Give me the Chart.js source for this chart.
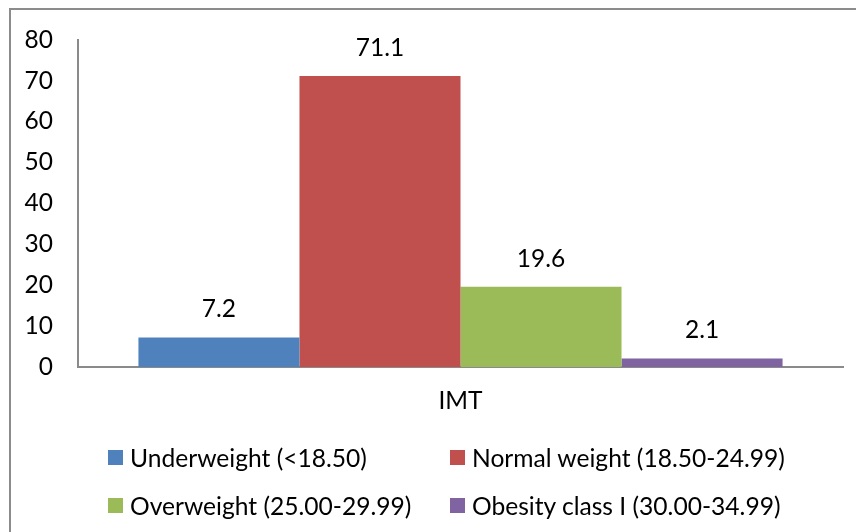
<!DOCTYPE html>
<html>
<head>
<meta charset="utf-8">
<script src="https://cdn.jsdelivr.net/npm/chart.js@4/dist/chart.umd.min.js"></script>
<style>
  html, body { margin: 0; padding: 0; background: #fff; }
  #wrap { position: relative; width: 856px; height: 532px; overflow: hidden; }
  #chart { position: absolute; left: 0; top: 0; }
  .legend-item { position: absolute; display: flex; align-items: center; font-family: Lato, sans-serif; font-size: 24.6px; color: #000; white-space: nowrap; }
  .legend-item .sw { width: 15px; height: 15px; margin-right: 7px; flex: none; }
</style>
</head>
<body>
<div id="wrap">
  <canvas id="chart" width="856" height="532"></canvas>
  <div id="legend"></div>
</div>
<script>
// Body mass index (IMT) distribution, percent of respondents
const categories = ['IMT'];
const seriesNames = [
  'Underweight (<18.50)',
  'Normal weight (18.50-24.99)',
  'Overweight (25.00-29.99)',
  'Obesity class I (30.00-34.99)'
];
const underweight = [7.2];
const normalWeight = [71.1];
const overweight = [19.6];
const obesityClassI = [2.1];
const yTicks = [0, 10, 20, 30, 40, 50, 60, 70, 80];

const seriesValues = [underweight, normalWeight, overweight, obesityClassI];
const seriesColors = ['#4F81BD', '#C0504D', '#9BBB59', '#8064A2'];
const FONT = 'Lato, sans-serif';
const AXIS_COLOR = '#8a8a8a';

// Frame line along the top and left edge of the canvas
const framePlugin = {
  id: 'frame',
  beforeDraw(chart) {
    const ctx = chart.ctx;
    ctx.save();
    ctx.strokeStyle = '#8c8c8c';
    ctx.lineWidth = 2;
    ctx.beginPath();
    ctx.moveTo(10, chart.height);
    ctx.lineTo(10, 9);
    ctx.lineTo(chart.width, 9);
    ctx.stroke();
    ctx.restore();
  }
};

// Value label centred above each bar
const valueLabels = {
  id: 'valueLabels',
  afterDatasetsDraw(chart) {
    const ctx = chart.ctx;
    ctx.save();
    ctx.font = '24.5px ' + FONT;
    ctx.fillStyle = '#000';
    ctx.textAlign = 'center';
    ctx.textBaseline = 'middle';
    chart.data.datasets.forEach((ds, i) => {
      const meta = chart.getDatasetMeta(i);
      meta.data.forEach((bar, j) => {
        ctx.fillText(String(ds.data[j]), bar.x, bar.y - 28);
      });
    });
    ctx.restore();
  }
};

const chart = new Chart(document.getElementById('chart'), {
  type: 'bar',
  data: {
    labels: categories,
    datasets: seriesNames.map((name, i) => ({
      label: name,
      data: seriesValues[i],
      backgroundColor: seriesColors[i],
      borderWidth: 0,
      categoryPercentage: 0.842,
      barPercentage: 1.0
    }))
  },
  options: {
    responsive: false,
    animation: false,
    devicePixelRatio: 1,
    layout: { padding: { top: 38, right: 13, left: 0, bottom: 0 } },
    plugins: {
      legend: { display: false },
      tooltip: { enabled: false }
    },
    scales: {
      x: {
        grid: { display: false, drawTicks: false },
        border: { display: true, color: AXIS_COLOR, width: 2 },
        ticks: { color: '#000', font: { family: FONT, size: 24.5 }, padding: 19 },
        afterFit(scale) { scale.height = 165; }
      },
      y: {
        min: yTicks[0],
        max: yTicks[yTicks.length - 1],
        afterBuildTicks(scale) { scale.ticks = yTicks.map(v => ({ value: v })); },
        grid: { display: false, drawTicks: false },
        border: { display: true, color: AXIS_COLOR, width: 2 },
        ticks: { color: '#000', font: { family: FONT, size: 24.5 }, padding: 25 },
        afterFit(scale) { scale.width = 78; }
      }
    }
  },
  plugins: [framePlugin, valueLabels]
});

// Two-column legend below the plot
const legendPos = [
  { left: 108, top: 446 },
  { left: 450, top: 446 },
  { left: 108, top: 494 },
  { left: 450, top: 494 }
];
const legend = document.getElementById('legend');
seriesNames.forEach((name, i) => {
  const item = document.createElement('div');
  item.className = 'legend-item';
  item.style.left = legendPos[i].left + 'px';
  item.style.top = legendPos[i].top + 'px';
  item.style.height = '23px';
  const sw = document.createElement('span');
  sw.className = 'sw';
  sw.style.background = seriesColors[i];
  const txt = document.createElement('span');
  txt.textContent = name;
  item.appendChild(sw);
  item.appendChild(txt);
  legend.appendChild(item);
});
</script>
</body>
</html>
